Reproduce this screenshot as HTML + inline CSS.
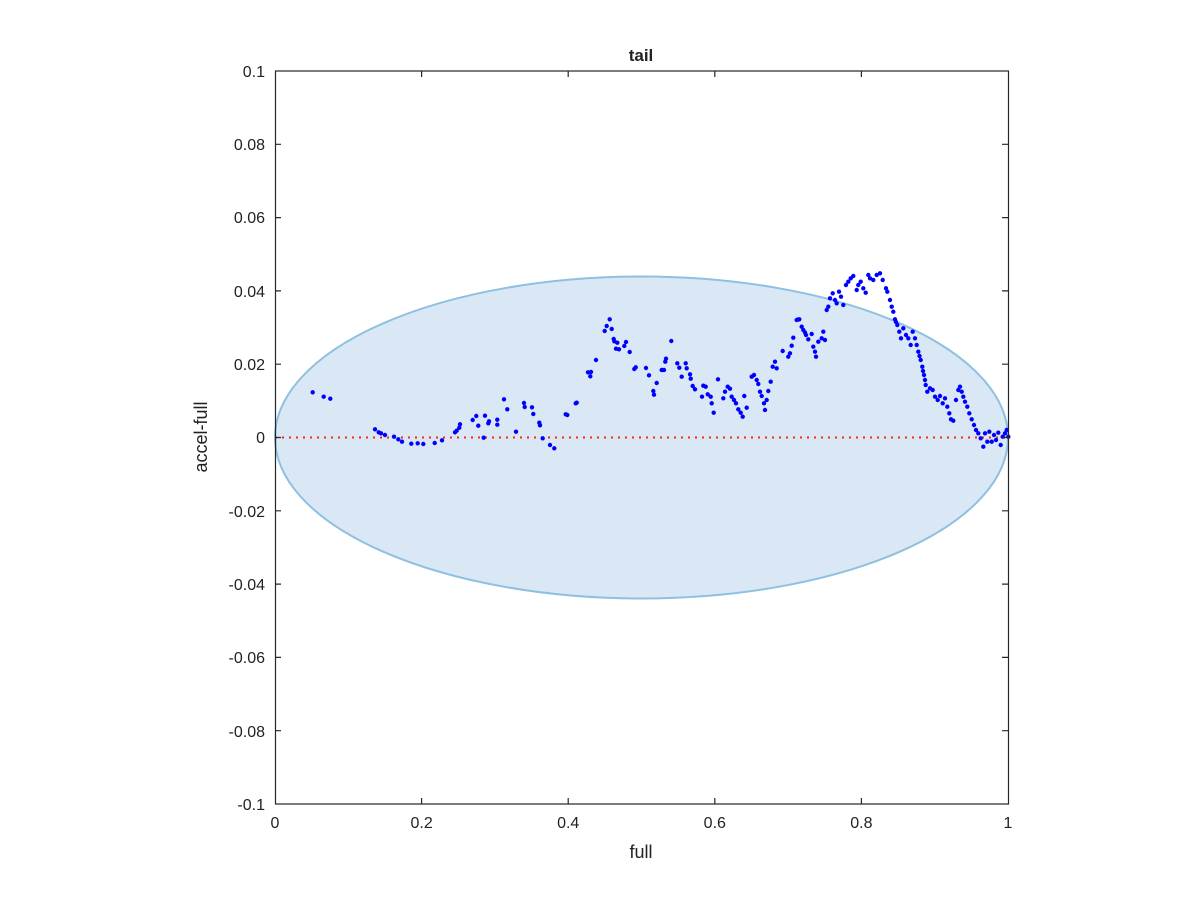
<!DOCTYPE html>
<html><head><style>body{margin:0;background:#fff}svg{display:block}text{font-family:"Liberation Sans",sans-serif;fill:#222}</style></head><body>
<svg width="1200" height="900" viewBox="0 0 1200 900">
<ellipse cx="641.5" cy="437.5" rx="366.5" ry="161" fill="#d9e8f4" stroke="#8fc0e0" stroke-width="2"/>
<line x1="275" y1="437.5" x2="1008" y2="437.5" stroke="#ff2020" stroke-width="2" stroke-dasharray="2,5"/>
<path fill="none" stroke="#0000ff" stroke-width="4.4" stroke-linecap="round" d="M312.7 392.3h0M323.7 396.7h0M330.3 398.7h0M375 429.3h0M378.7 432.3h0M381 433.3h0M385 435h0M394 436.7h0M398.3 439.3h0M402 441.7h0M411.3 443.7h0M417.7 443.3h0M423.3 444h0M434.7 443h0M442 440.3h0M455 432.3h0M456.7 430.7h0M459.3 427.7h0M460 424.3h0M472.7 420h0M476.3 416h0M478.3 425.7h0M485 415.7h0M483.7 437.7h0M488.3 423.3h0M489 421.3h0M497.3 419.7h0M497.3 424.7h0M504 399.3h0M507.3 409.3h0M516 431.7h0M524 403h0M524.7 407h0M532 407.3h0M533.3 414h0M539.3 422.7h0M540 425.3h0M542.7 438.3h0M550 445h0M554.3 448.3h0M565.7 414.3h0M567.3 415h0M575.7 403.3h0M576.7 402.7h0M588 372.3h0M590.3 376.3h0M591 372h0M596 360h0M604.7 331h0M606.7 326h0M609.7 319.3h0M611.7 329h0M613.7 339h0M614.3 341.3h0M617.3 342.7h0M616 348.7h0M619 349.3h0M624.3 346h0M626 342h0M629.7 352h0M634.3 369h0M635.7 367.3h0M646 368h0M649 375.3h0M653.3 391h0M654 394.7h0M656.7 383h0M661.7 370h0M664 370h0M665.3 361.7h0M666 358.7h0M671.3 341h0M677.3 363.3h0M679.3 367.7h0M681.7 376.7h0M685.7 363.3h0M686.7 368.3h0M690 374.3h0M690.7 378.7h0M692.7 386h0M695 389.3h0M702 396.7h0M703.3 385.7h0M705.7 386.7h0M707.7 394.3h0M710.7 396.7h0M711.7 403.3h0M713.7 412.7h0M718 379.3h0M723.3 398.3h0M725 391.7h0M727.7 386.7h0M730 388.7h0M731.7 396.7h0M734 400h0M736 403.3h0M738.3 409.3h0M740.7 412.7h0M742.7 416.7h0M744.3 396h0M746.7 407.7h0M751.7 376.7h0M754 375h0M756.7 380h0M758.3 384h0M760 391.7h0M761.7 396h0M764 403.3h0M765 410h0M766.7 400h0M768.3 391h0M770.7 381.7h0M772.7 366.7h0M775 361.7h0M776.7 368.3h0M782.7 351h0M788.3 356.7h0M790 353.3h0M791.7 345.7h0M793.3 337.7h0M796.7 320h0M798 319.6h0M799.3 319.3h0M801.7 326.7h0M803.3 330h0M805 332.5h0M806 335h0M808.3 339.3h0M811.7 334h0M813.3 346.7h0M815 351.7h0M816 356.7h0M818.3 341.7h0M821.7 338.3h0M823.3 331.7h0M825 340h0M826.7 310h0M828.3 306.7h0M830 298.3h0M832.7 293.3h0M835 300h0M836.7 303.3h0M839 291.7h0M841 296.7h0M843.3 305h0M846 285h0M848.3 281.7h0M850.7 278.3h0M853.3 276h0M856.7 290h0M858.3 285h0M860.7 281.7h0M863.3 288.3h0M865.7 292.7h0M868.3 275h0M870 278.3h0M873.3 280h0M876.7 275h0M880 273.3h0M882.7 280h0M886 288.3h0M887.3 291.7h0M890 300h0M891.7 306.7h0M893.3 311.7h0M895 319.3h0M896 322h0M897.3 325h0M899.3 331.7h0M901 338.3h0M903.3 328.3h0M906 335h0M908.3 338.3h0M910.7 345h0M912.7 331.7h0M915 338.3h0M916.7 345h0M918.3 351.7h0M919.5 356h0M920.7 360h0M922.3 366.7h0M923 371h0M924 375h0M925 380h0M925.7 385h0M927.3 391.7h0M930 388.3h0M932.7 390h0M935 396.7h0M937.7 400h0M940 396h0M942.7 403.3h0M945 398.3h0M947.3 406.7h0M949.3 413.3h0M951 419.3h0M953.3 420.7h0M956 400h0M958.3 390h0M960 386.7h0M961.7 391.7h0M963.3 396.7h0M965 401.7h0M967.3 406.7h0M969.3 413.3h0M971.7 419.3h0M974 425h0M976 430h0M978.3 433.3h0M980.7 438.3h0M983.3 446.7h0M985 433.3h0M987.3 441.7h0M989.3 431.7h0M991.7 441.7h0M994 435h0M996 440h0M998.3 432.7h0M1000.7 445h0M1002.7 436.7h0M1005 433.3h0M1006.7 430h0M1008.3 436.7h0"/>
<g stroke="#262626" stroke-width="1.2" fill="none">
<rect x="275.5" y="71" width="733" height="733"/>
<path d="M275,144.3h6M275,217.6h6M275,290.9h6M275,364.2h6M275,437.5h6M275,510.8h6M275,584.1h6M275,657.4h6M275,730.7h6M1008,144.3h-6M1008,217.6h-6M1008,290.9h-6M1008,364.2h-6M1008,437.5h-6M1008,510.8h-6M1008,584.1h-6M1008,657.4h-6M1008,730.7h-6M421.6,804v-6M568.2,804v-6M714.8,804v-6M861.4,804v-6M421.6,71v6M568.2,71v6M714.8,71v6M861.4,71v6"/>
</g>
<g font-size="16" text-anchor="end">
<text x="265" y="77">0.1</text><text x="265" y="150">0.08</text><text x="265" y="223">0.06</text><text x="265" y="297">0.04</text><text x="265" y="370">0.02</text><text x="265" y="443">0</text><text x="265" y="517">-0.02</text><text x="265" y="590">-0.04</text><text x="265" y="663">-0.06</text><text x="265" y="737">-0.08</text><text x="265" y="810">-0.1</text>
</g>
<g font-size="16" text-anchor="middle">
<text x="275" y="828">0</text><text x="421.6" y="828">0.2</text><text x="568.2" y="828">0.4</text><text x="714.8" y="828">0.6</text><text x="861.4" y="828">0.8</text><text x="1008" y="828">1</text>
<text x="641" y="858" font-size="18">full</text>
<text x="641" y="61" font-size="17" font-weight="bold">tail</text>
<text transform="translate(207,437) rotate(-90)" font-size="18">accel-full</text>
</g>
</svg>
</body></html>
